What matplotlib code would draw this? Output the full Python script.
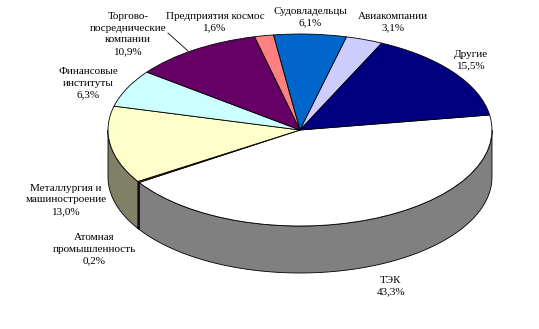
import numpy as np
import matplotlib
matplotlib.use("Agg")
import matplotlib.pyplot as plt
from matplotlib.patches import Polygon
from matplotlib.transforms import Affine2D

# ---- data ----
labels = ["ТЭК", "Атомная\nпромышленность", "Металлургия и\nмашиностроение",
          "Финансовые\nинституты", "Торгово-\nпосреднические\nкомпании",
          "Предприятия космос", "Судовладельцы", "Авиакомпании", "Другие"]
values = [43.3, 0.2, 13.0, 6.3, 10.9, 1.6, 6.1, 3.1, 15.5]
pct_labels = ["43,3%", "0,2%", "13,0%", "6,3%", "10,9%", "1,6%", "6,1%", "3,1%", "15,5%"]

top_colors = ["#FFFFFF", "#993366", "#FFFFCC", "#CCFFFF", "#660066",
              "#FF8080", "#0066CC", "#CCCCFF", "#000080"]
side_colors = ["#808080", "#4D1A33", "#808066", "#668080", "#330033",
               "#804040", "#003366", "#666680", "#000040"]

# label positions (pixel coords, layout only)
label_pos = [(391, 286), (94, 249), (66, 200), (88, 83), (128, 34),
             (215, 22), (310, 17), (393, 22), (471, 60)]

W, H = 539, 329
fig = plt.figure(figsize=(W / 100, H / 100), dpi=100)
ax = fig.add_axes([0, 0, 1, 1])

cx, cy, rx, ry = 300, 130, 192, 96
depth = 47 / ry
tr = Affine2D().scale(rx, -ry).translate(cx, cy) + ax.transData

start = 9.0
wedges, _ = ax.pie(values, colors=top_colors, startangle=start, counterclock=False,
                   radius=1, center=(0, 0),
                   wedgeprops=dict(edgecolor="black", linewidth=0.6))
for w in wedges:
    w.set_transform(tr)
    w.set_zorder(3)

# side walls for the front half of the pie
total = sum(values)
a_hi = start
for v, sc in zip(values, side_colors):
    a_lo = a_hi - v / total * 360.0
    span = a_hi - a_lo
    lo_n = a_lo
    while lo_n < 0:
        lo_n += 360
    for shift in (-360, 0, 360):
        s0 = lo_n + shift
        s1 = s0 + span
        t0, t1 = max(s0, 180), min(s1, 360)
        if t1 > t0:
            t = np.linspace(np.radians(t0), np.radians(t1), 80)
            top = np.column_stack([np.cos(t), np.sin(t)])
            bot = np.column_stack([np.cos(t[::-1]), np.sin(t[::-1]) - depth])
            poly = Polygon(np.vstack([top, bot]), closed=True, facecolor=sc,
                           edgecolor="black", linewidth=0.6, transform=tr, zorder=2)
            ax.add_patch(poly)
    a_hi = a_lo

ax.set_aspect("auto")
ax.set_xlim(0, W)
ax.set_ylim(H, 0)
ax.axis("off")

for lab, pct, (x, y) in zip(labels, pct_labels, label_pos):
    ax.text(x, y, lab + "\n" + pct, ha="center", va="center", fontsize=8,
            family="Liberation Serif", linespacing=1.4, zorder=5)

# leader line for Торгово-посреднические компании
ax.plot([168, 188], [33, 51], color="black", lw=0.6, zorder=5)

fig.savefig("out.png", dpi=100)
